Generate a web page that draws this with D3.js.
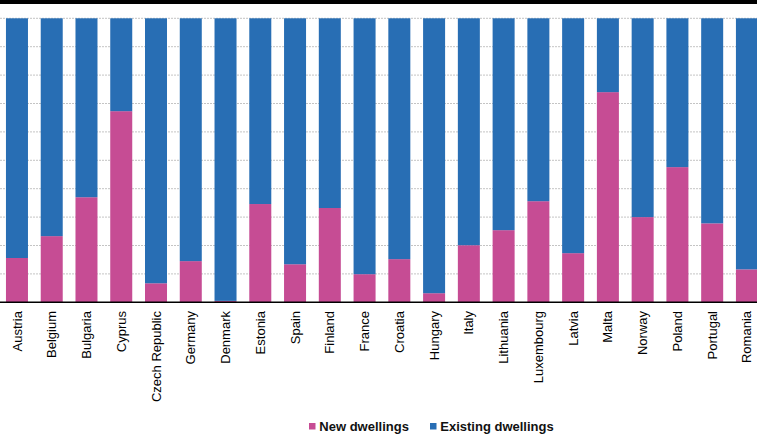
<!DOCTYPE html>
<html>
<head>
<meta charset="utf-8">
<script src="https://cdn.jsdelivr.net/npm/d3@7"></script>
<style>
  body { margin: 0; background: #fff; }
  svg { display: block; font-family: "Liberation Sans", Arial, sans-serif; }
</style>
</head>
<body>
<svg id="chart" width="757" height="442"></svg>
<script>
// share of new dwellings (%) per country, the rest is existing dwellings
const countries = ["Austria","Belgium","Bulgaria","Cyprus","Czech Republic","Germany","Denmark","Estonia","Spain","Finland","France","Croatia","Hungary","Italy","Lithuania","Luxembourg","Latvia","Malta","Norway","Poland","Portugal","Romania"];
const newDwellings = [15.6,23.3,37.0,67.3,6.7,14.5,0.5,34.6,13.4,33.2,9.9,15.2,3.2,20.1,25.4,35.6,17.3,74.0,30.0,47.6,27.8,11.6];
const seriesNames = ["New dwellings","Existing dwellings"];
const seriesColors = ["#c64c94","#286eb4"];
const yTicks = [0,10,20,30,40,50,60,70,80,90,100];

const width = 757, height = 442;
const plotTop = 18.3, plotBottom = 302.3;

const svg = d3.select("#chart");

// black band on top
svg.append("rect")
    .attr("x",0).attr("y",0)
    .attr("width",width).attr("height",4)
    .attr("fill","#000");

let x = d3.scaleBand()
    .domain(countries)
    .range([-0.4, 764.3])
    .paddingInner(0.367)
    .paddingOuter(0.183);

let y = d3.scaleLinear()
    .domain([0,100])
    .range([plotBottom, plotTop]);

// dashed grid
svg.append("g")
    .selectAll("line")
    .data(yTicks.slice(1))
    .join("line")
    .attr("x1",0).attr("x2",width)
    .attr("y1",d => y(d)).attr("y2",d => y(d))
    .attr("stroke","#c4c4c4")
    .attr("stroke-width",1)
    .attr("stroke-dasharray","2,1");

let rows = countries.map((c,i) => ({country:c, "New dwellings":newDwellings[i], "Existing dwellings":100-newDwellings[i]}));
let stacked = d3.stack().keys(seriesNames)(rows);

svg.append("g")
    .selectAll("g")
    .data(stacked)
    .join("g")
    .attr("fill",(d,i) => seriesColors[i])
    .selectAll("rect")
    .data(d => d)
    .join("rect")
    .attr("x",d => x(d.data.country))
    .attr("width",x.bandwidth())
    .attr("y",d => y(d[1]))
    .attr("height",d => y(d[0]) - y(d[1]));

// baseline
svg.append("line")
    .attr("x1",0).attr("x2",width)
    .attr("y1",plotBottom).attr("y2",plotBottom)
    .attr("stroke","#000")
    .attr("stroke-width",1.5);

// country labels
svg.append("g")
    .selectAll("text")
    .data(countries)
    .join("text")
    .attr("transform",d => `translate(${x(d)+x.bandwidth()/2},311) rotate(-90)`)
    .attr("text-anchor","end")
    .attr("dy","0.35em")
    .style("font-size","13px")
    .attr("fill","#000")
    .text(d => d);

// legend
let legendX = [309, 430];
let legend = svg.append("g")
    .selectAll("g")
    .data(seriesNames)
    .join("g")
    .attr("transform",(d,i) => `translate(${legendX[i]},0)`);
legend.append("rect")
    .attr("x",0).attr("y",423)
    .attr("width",6.5).attr("height",6.5)
    .attr("fill",(d,i) => seriesColors[i]);
legend.append("text")
    .attr("x",10.3).attr("y",430.5)
    .style("font-size","13px")
    .style("font-weight","bold")
    .attr("fill","#111")
    .text(d => d);
</script>
</body>
</html>
